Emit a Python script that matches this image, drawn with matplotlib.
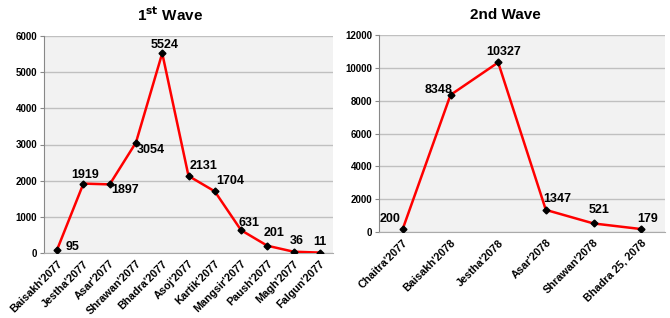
import matplotlib
matplotlib.use("Agg")
import matplotlib.pyplot as plt

plt.rcParams['font.family'] = ['Liberation Sans', 'DejaVu Sans']

w1_labels = ["Baisakh'2077", "Jestha'2077", "Asar'2077", "Shrawan'2077", "Bhadra'2077",
             "Asoj'2077", "Kartik'2077", "Mangsir'2077", "Paush'2077", "Magh'2077", "Falgun'2077"]
w1_values = [95, 1919, 1897, 3054, 5524, 2131, 1704, 631, 201, 36, 11]
w1_yticks = [0, 1000, 2000, 3000, 4000, 5000, 6000]

w2_labels = ["Chaitra'2077", "Baisakh'2078", "Jestha'2078", "Asar'2078", "Shrawan'2078", "Bhadra 25, 2078"]
w2_values = [200, 8348, 10327, 1347, 521, 179]
w2_yticks = [0, 2000, 4000, 6000, 8000, 10000, 12000]

# label offsets in pixels (dx, dy-up)
w1_off = [(15, 3), (2, 9), (15, -6), (15, -7), (2, 8), (15, 10), (15, 10), (8, 7), (7, 13), (3, 11), (0, 11)]
w2_off = [(-13, 10), (-12, 5), (5, 10), (11, 11), (6, 13), (6, 10)]

fig = plt.figure(figsize=(6.7, 3.18), dpi=100)
W, H = 670, 318

def make(ax, labels, values, yticks, offs):
    ax.set_facecolor('#f2f2f2')
    x = list(range(len(labels)))
    ax.plot(x, values, color='#ff0000', lw=1.8, zorder=3)
    ax.plot(x, values, ls='none', marker='D', ms=3.5, mfc='black', mec='black', zorder=4)
    ax.set_xlim(-0.5, len(labels) - 0.5)
    ax.set_ylim(yticks[0], yticks[-1])
    ax.set_yticks(yticks)
    ax.set_yticklabels([str(t) for t in yticks], fontsize=7, fontweight='bold')
    ax.set_xticks(x)
    ax.set_xticklabels(labels, rotation=45, ha='right', rotation_mode='anchor',
                       fontsize=7.8, fontweight='bold')
    ax.tick_params(axis='x', length=0, pad=4)
    ax.tick_params(axis='y', length=3, pad=2, color='#888888')
    ax.grid(axis='y', color='#c0c0c0', lw=1)
    ax.set_axisbelow(True)
    for s in ['top', 'right']:
        ax.spines[s].set_visible(False)
    ax.spines['left'].set_color('#888888')
    ax.spines['bottom'].set_color('#aaaaaa')
    for xi, v, (dx, dy) in zip(x, values, offs):
        ax.annotate(str(v), (xi, v), xytext=(dx * 0.72, dy * 0.72), textcoords='offset points',
                    ha='center', va='center', fontsize=9, fontweight='bold', zorder=5)

ax1 = fig.add_axes([44 / W, (H - 253) / H, 289 / W, 217 / H])
make(ax1, w1_labels, w1_values, w1_yticks, w1_off)
fig.text(170 / W, 1 - 15 / H, r'1$^{\mathbf{st}}$ Wave', ha='center', va='center',
         fontsize=11, fontweight='bold')

ax2 = fig.add_axes([379 / W, (H - 232) / H, 286 / W, 197 / H])
make(ax2, w2_labels, w2_values, w2_yticks, w2_off)
fig.text(505 / W, 1 - 15 / H, '2nd Wave', ha='center', va='center',
         fontsize=11, fontweight='bold')

fig.savefig('out.png', dpi=100)
